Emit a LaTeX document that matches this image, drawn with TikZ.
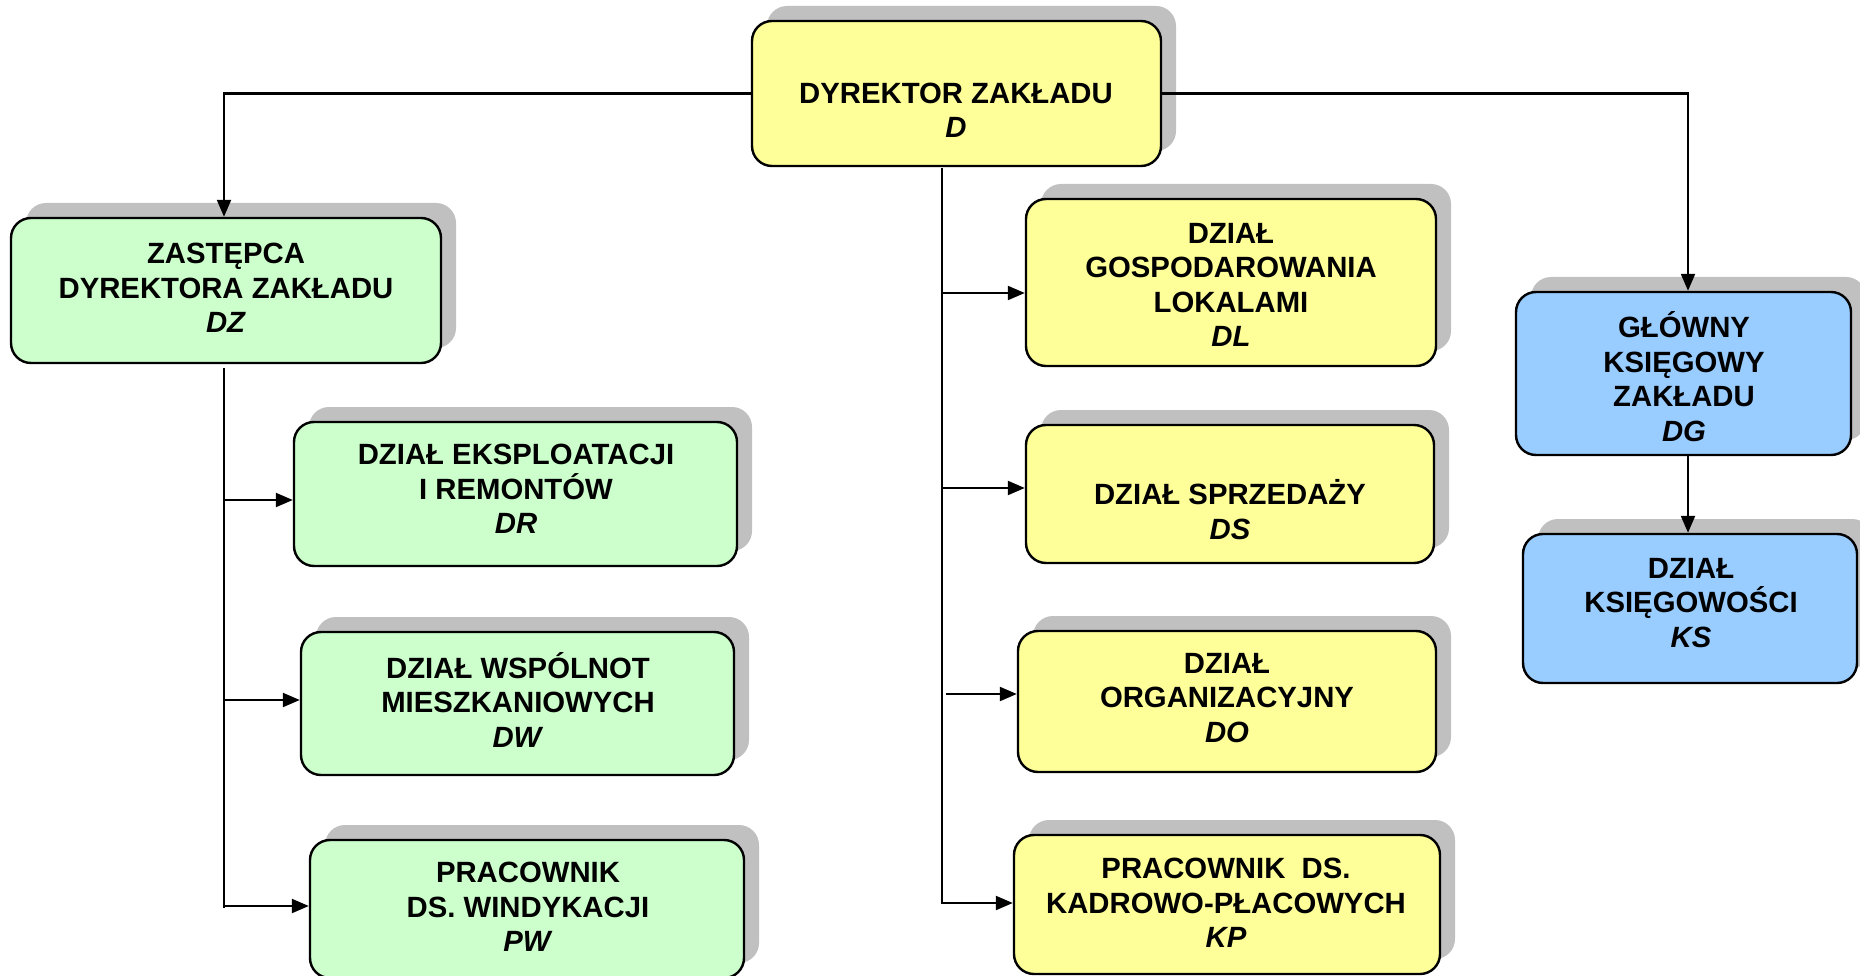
\documentclass[tikz,border=0pt]{standalone}
\usepackage{fontspec}
\setmainfont{Liberation Sans}
\usetikzlibrary{arrows.meta,shadows}
\definecolor{yel}{HTML}{FFFF99}
\definecolor{grn}{HTML}{CCFFCC}
\definecolor{blu}{HTML}{99CCFF}
\definecolor{shd}{HTML}{C0C0C0}
\begin{document}
\begin{tikzpicture}[x=1pt,y=-1pt,
  box/.style={draw=black, line width=2.4pt, rounded corners=20pt, inner sep=0pt,
    drop shadow={shadow xshift=15pt, shadow yshift=15pt, opacity=1, fill=shd}},
  txt/.style={align=center, inner sep=0pt, font=\fontsize{29.3}{34.5}\selectfont\bfseries},
  conn/.style={draw=black, line width=2.2pt},
  arr/.style={conn, -{Triangle[length=17pt,width=14pt]}}]
\useasboundingbox[fill=white] (0,0) rectangle (1860,976);

% boxes
\node[box, fill=yel, minimum width=409pt, minimum height=145pt] (D) at (956.5,93.5) {};
\node[txt] (Dt) at (956,110.5) {DYREKTOR ZAKŁADU\\\textit{D}};

\node[box, fill=grn, minimum width=430pt, minimum height=145pt] (DZ) at (226,290.5) {};
\node[txt] (DZt) at (226,288) {ZASTĘPCA\\DYREKTORA ZAKŁADU\\\textit{DZ}};

\node[box, fill=grn, minimum width=443pt, minimum height=144pt] (DR) at (515.5,494) {};
\node[txt] (DRt) at (516,489) {DZIAŁ EKSPLOATACJI\\I REMONTÓW\\\textit{DR}};

\node[box, fill=grn, minimum width=433pt, minimum height=143pt] (DW) at (517.5,703.5) {};
\node[txt] (DWt) at (518,700) {DZIAŁ WSPÓLNOT\\MIESZKANIOWYCH\\\textit{DW}};

\node[box, fill=grn, minimum width=434pt, minimum height=138pt] (PW) at (527,909) {};
\node[txt] (PWt) at (528,907) {PRACOWNIK\\DS. WINDYKACJI\\\textit{PW}};

\node[box, fill=yel, minimum width=410pt, minimum height=167pt] (DL) at (1231,282.5) {};
\node[txt] (DLt) at (1231,285) {DZIAŁ\\GOSPODAROWANIA\\LOKALAMI\\\textit{DL}};

\node[box, fill=yel, minimum width=408pt, minimum height=138pt] (DS) at (1230,494) {};
\node[txt] (DSt) at (1230,509.5) {DZIAŁ SPRZEDAŻY\\\textit{DS}};

\node[box, fill=yel, minimum width=418pt, minimum height=141pt] (DO) at (1227,701.5) {};
\node[txt] (DOt) at (1227,698) {DZIAŁ\\ORGANIZACYJNY\\\textit{DO}};

\node[box, fill=yel, minimum width=426pt, minimum height=139pt] (KP) at (1227,904.5) {};
\node[txt] (KPt) at (1226,903) {PRACOWNIK\ \ DS.\\KADROWO-PŁACOWYCH\\\textit{KP}};

\node[box, fill=blu, minimum width=335pt, minimum height=163pt] (DG) at (1683.5,373.5) {};
\node[txt] (DGt) at (1684,376.5) {GŁÓWNY\\KSIĘGOWY\\ZAKŁADU\\\textit{DG}};

\node[box, fill=blu, minimum width=334pt, minimum height=149pt] (KS) at (1690,608.5) {};
\node[txt] (KSt) at (1691,603) {DZIAŁ\\KSIĘGOWOŚCI\\\textit{KS}};

% top connectors
\draw[arr] (D.west) -| ([xshift=-2pt]DZ.north);
\draw[arr] (D.east) -| ([xshift=4.5pt]DG.north);
\draw[arr] ([xshift=4.5pt]DG.south) -- ([xshift=4.5pt]DG.south |- KS.north);

% left trunk
\coordinate (L1) at (224,368);
\coordinate (L2) at (224,908);
\draw[conn] (L1) -- (L2);
\coordinate (aDR) at ([yshift=-6pt]DR.west);
\coordinate (aDW) at ([yshift=3.5pt]DW.west);
\coordinate (aPW) at ([yshift=3pt]PW.west);
\draw[arr] (aDR -| L1) -- (aDR);
\draw[arr] (aDW -| L1) -- (aDW);
\draw[arr] (aPW -| L1) -- (aPW);

% middle trunk
\coordinate (M1) at (942,168);
\coordinate (aDL) at ([yshift=-10.5pt]DL.west);
\coordinate (aDS) at ([yshift=6pt]DS.west);
\coordinate (aDO) at ([yshift=7.5pt]DO.west);
\coordinate (aKP) at ([yshift=1.5pt]KP.west);
\draw[arr] (M1) |- (aKP);
\draw[arr] (aDL -| M1) -- (aDL);
\draw[arr] (aDS -| M1) -- (aDS);
\draw[arr] ([xshift=4pt]aDO -| M1) -- (aDO);
\end{tikzpicture}
\end{document}
